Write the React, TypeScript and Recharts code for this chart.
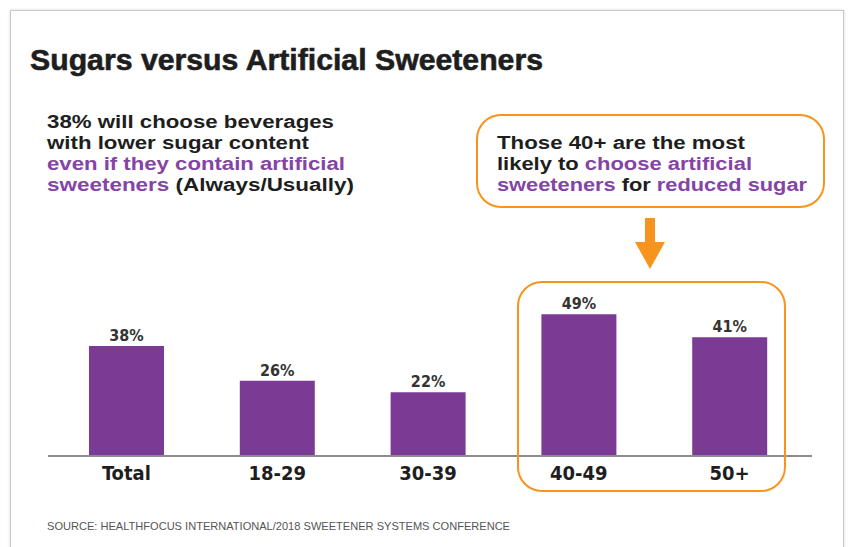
import React from 'react';
import { BarChart, Bar, XAxis, YAxis, LabelList } from 'recharts';

const categories = ['Total', '18-29', '30-39', '40-49', '50+'];
const shares = [38, 26, 22, 49, 41];

const title = 'Sugars versus Artificial Sweeteners';
const source = 'SOURCE: HEALTHFOCUS INTERNATIONAL/2018 SWEETENER SYSTEMS CONFERENCE';

const PURPLE = '#7b3b94';
const PURPLE_TEXT = '#8444a6';
const ORANGE = '#f7941d';
const INK = '#1e1e1e';
const NARROW = '"DejaVu Sans Condensed", "Liberation Sans", sans-serif';
const SANS = '"Liberation Sans", Arial, sans-serif';

const data = categories.map((name, i) => ({ name, value: shares[i] }));

function CategoryTick({ x, y, payload }: any) {
  return (
    <text x={x} y={y + 17} dy="0.35em" textAnchor="middle"
      fontFamily={NARROW} fontWeight={700} fontSize={20} fill={INK}>
      {payload.value}
    </text>
  );
}

const P = ({ children }: { children: React.ReactNode }) => (
  <tspan fill={PURPLE_TEXT}>{children}</tspan>
);

// one line of the headline blocks, stretched to the width
function Line({ x, y, w, children }: { x: number; y: number; w: number; children: React.ReactNode }) {
  return (
    <text x={x} y={y} textLength={w} lengthAdjust="spacingAndGlyphs"
      fontFamily={SANS} fontWeight={700} fontSize={18} fill={INK}>
      {children}
    </text>
  );
}

export default function App() {
  return (
    <div style={{ position: 'absolute', left: 0, top: 0, width: 848, height: 547, background: '#fff', overflow: 'hidden' }}>
      {/* outer frame */}
      <div style={{ position: 'absolute', left: 10, top: 10, width: 832, height: 560, border: '1px solid #c8c8c8', boxShadow: '0 0 3px rgba(0,0,0,0.15)' }} />

      <div style={{ position: 'absolute', left: 0, top: 0 }}>
        <BarChart width={848} height={547} data={data}
          margin={{ top: 236, right: 36, bottom: 0, left: 48 }}>
          <XAxis dataKey="name" height={91} padding={{ left: 3, right: 7 }}
            tickLine={false} tickSize={0} tickMargin={0}
            axisLine={{ stroke: '#8c8c8c', strokeWidth: 2 }} tick={<CategoryTick />} />
          <YAxis width={0} domain={[0, 76]} tick={false} tickLine={false}
            axisLine={{ stroke: '#a8a8a8', strokeWidth: 1.5 }} />
          <Bar dataKey="value" fill={PURPLE} barSize={75} isAnimationActive={false}>
            <LabelList dataKey="value" position="top" offset={5}
              formatter={(v: any) => `${v}%`}
              style={{ fontFamily: NARROW, fontWeight: 700, fontSize: 16, fill: '#333' }} />
          </Bar>
        </BarChart>
      </div>

      <svg width={848} height={547} style={{ position: 'absolute', left: 0, top: 0, pointerEvents: 'none' }}>
        <text x={30} y={70} textLength={513} lengthAdjust="spacingAndGlyphs"
          fontFamily={SANS} fontWeight={700} fontSize={30} fill={INK}
          stroke={INK} strokeWidth={0.6}>
          {title}
        </text>

        <Line x={47} y={128} w={287}>38% will choose beverages</Line>
        <Line x={47} y={149} w={262}>with lower sugar content</Line>
        <Line x={47} y={170} w={298}><P>even if they contain artificial</P></Line>
        <Line x={47} y={191} w={307}><P>sweeteners</P> (Always/Usually)</Line>

        <Line x={497} y={149} w={248}>Those 40+ are the most</Line>
        <Line x={497} y={170} w={255}>likely to <P>choose artificial</P></Line>
        <Line x={497} y={191} w={310}><P>sweeteners</P> for <P>reduced sugar</P></Line>

        {/* callout box */}
        <rect x={477} y={115} width={347} height={92} rx={24} ry={24}
          fill="none" stroke={ORANGE} strokeWidth={2} />
        {/* arrow */}
        <rect x={645} y={218} width={10} height={26} fill={ORANGE} />
        <polygon points="635,242 665,242 650,269" fill={ORANGE} />
        {/* highlight around 40+ bars */}
        <rect x={518} y={282} width={267} height={209} rx={24} ry={24}
          fill="none" stroke={ORANGE} strokeWidth={2} />

        <text x={47} y={530} textLength={463} lengthAdjust="spacingAndGlyphs"
          fontFamily={SANS} fontSize={11} fill="#555">
          {source}
        </text>
      </svg>
    </div>
  );
}
